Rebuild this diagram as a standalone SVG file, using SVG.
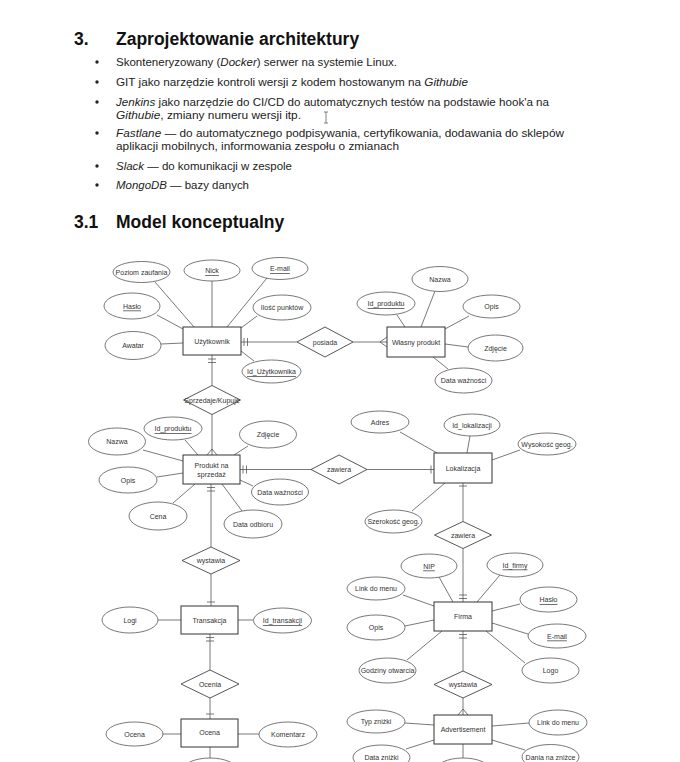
<svg xmlns="http://www.w3.org/2000/svg" width="680" height="762" viewBox="0 0 680 762">
<style>
.h{font-family:"Liberation Sans",Arial,sans-serif;font-size:17.5px;font-weight:bold;fill:#111}
.b{font-family:"Liberation Sans",Arial,sans-serif;font-size:11.5px;fill:#222}
.i{font-style:italic}
.e{fill:#fff;stroke:#555;stroke-width:0.8}
.r{fill:#fff;stroke:#333;stroke-width:1}
.d{fill:#fff;stroke:#444;stroke-width:0.9}
.c{stroke:#555;stroke-width:0.8;fill:none}
.t{font-family:"Liberation Sans",Arial,sans-serif;font-size:7px;fill:#333;text-anchor:middle;dominant-baseline:central}
.u{text-decoration:underline}
</style>
<rect width="680" height="762" fill="#fff"/>
<g id="header">
<text class="h" x="74" y="45">3.</text>
<text class="h" x="116" y="45">Zaprojektowanie architektury</text>
<g fill="#222"><circle cx="97" cy="62" r="1.7"/><circle cx="97" cy="82" r="1.7"/><circle cx="97" cy="102" r="1.7"/><circle cx="97" cy="133" r="1.7"/><circle cx="97" cy="166" r="1.7"/><circle cx="97" cy="185" r="1.7"/></g>
<text class="b" x="116" y="66" textLength="281" lengthAdjust="spacingAndGlyphs">Skonteneryzowany (<tspan class="i">Docker</tspan>) serwer na systemie Linux.</text>
<text class="b" x="116" y="86" textLength="352" lengthAdjust="spacingAndGlyphs">GIT jako narzędzie kontroli wersji z kodem hostowanym na <tspan class="i">Githubie</tspan></text>
<text class="b" x="116" y="106" textLength="433" lengthAdjust="spacingAndGlyphs"><tspan class="i">Jenkins</tspan> jako narzędzie do CI/CD do automatycznych testów na podstawie hook'a na</text>
<text class="b" x="116" y="119" textLength="185" lengthAdjust="spacingAndGlyphs"><tspan class="i">Githubie</tspan>, zmiany numeru wersji itp.</text>
<text class="b" x="116" y="137" textLength="448" lengthAdjust="spacingAndGlyphs"><tspan class="i">Fastlane</tspan> — do automatycznego podpisywania, certyfikowania, dodawania do sklepów</text>
<text class="b" x="116" y="150" textLength="283" lengthAdjust="spacingAndGlyphs">aplikacji mobilnych, informowania zespołu o zmianach</text>
<text class="b" x="116" y="170" textLength="176" lengthAdjust="spacingAndGlyphs"><tspan class="i">Slack</tspan> — do komunikacji w zespole</text>
<text class="b" x="116" y="189" textLength="133" lengthAdjust="spacingAndGlyphs"><tspan class="i">MongoDB</tspan> — bazy danych</text>
<path d="M324,112 h4 M326,112 v11 M324,123 h4" stroke="#666" stroke-width="0.8" fill="none"/>
<text class="h" x="74" y="228">3.1</text>
<text class="h" x="116" y="228">Model konceptualny</text>
</g>
<g id="connectors" class="c">
<!-- Uzytkownik attrs -->
<line x1="155" y1="282" x2="194" y2="327"/>
<line x1="212" y1="281" x2="212" y2="327"/>
<line x1="267" y1="278" x2="227" y2="327"/>
<line x1="157" y1="315" x2="183" y2="329"/>
<line x1="257" y1="316" x2="241" y2="328"/>
<line x1="161" y1="344" x2="183" y2="343"/>
<line x1="241" y1="351" x2="254" y2="361"/>
<!-- Wlasny produkt attrs -->
<line x1="435" y1="291" x2="421" y2="327"/>
<line x1="397" y1="315" x2="405" y2="327"/>
<line x1="469" y1="316" x2="445" y2="329"/>
<line x1="445" y1="344" x2="468" y2="347"/>
<line x1="433" y1="357" x2="448" y2="369"/>
<!-- Produkt attrs -->
<line x1="185" y1="440" x2="198" y2="455"/>
<line x1="143" y1="450" x2="183" y2="461"/>
<line x1="248" y1="446" x2="234" y2="455"/>
<line x1="157" y1="477" x2="183" y2="473"/>
<line x1="240" y1="480" x2="253" y2="486"/>
<line x1="173" y1="503" x2="195" y2="484"/>
<line x1="222" y1="484" x2="242" y2="511"/>
<!-- Lokalizacja attrs -->
<line x1="400" y1="432" x2="437" y2="453"/>
<line x1="470" y1="436" x2="467" y2="453"/>
<line x1="492" y1="460" x2="520" y2="450"/>
<line x1="412" y1="511" x2="445" y2="483"/>
<!-- Firma attrs -->
<line x1="439" y1="577" x2="453" y2="602"/>
<line x1="500" y1="575" x2="477" y2="602"/>
<line x1="403" y1="595" x2="434" y2="606"/>
<line x1="520" y1="604" x2="492" y2="611"/>
<line x1="405" y1="626" x2="434" y2="620"/>
<line x1="528" y1="634" x2="492" y2="623"/>
<line x1="407" y1="660" x2="442" y2="631"/>
<line x1="525" y1="663" x2="486" y2="631"/>
<!-- Advertisement attrs -->
<line x1="405" y1="723" x2="434" y2="725"/>
<line x1="529" y1="723" x2="492" y2="726"/>
<line x1="406" y1="749" x2="434" y2="740"/>
<line x1="525" y1="750" x2="492" y2="740"/>
<line x1="463" y1="744" x2="463" y2="762"/>
<!-- Transakcja / Ocena attrs -->
<line x1="158" y1="620" x2="181" y2="620"/>
<line x1="238" y1="620" x2="253" y2="620"/>
<line x1="163" y1="734" x2="181" y2="734"/>
<line x1="238" y1="734" x2="259" y2="734"/>
<line x1="210" y1="747" x2="210" y2="762"/>
<!-- relationships -->
<line x1="241" y1="342" x2="297" y2="342"/>
<path d="M244,338 v8 M247.5,338 v8"/>
<line x1="353" y1="342" x2="387" y2="342"/>
<path d="M380,342 L387,337 M380,342 L387,347"/>
<line x1="212" y1="355" x2="212" y2="385.5"/>
<path d="M208,359 h8 M208,362.5 h8"/>
<line x1="212" y1="414.5" x2="212" y2="455"/>
<path d="M212,449 L207,455 M212,449 L217,455"/>
<line x1="240" y1="469.5" x2="311" y2="469.5"/>
<path d="M243,465.5 v8 M246.5,465.5 v8"/>
<line x1="367" y1="469.5" x2="434" y2="469.5"/>
<path d="M431,465.5 v8"/>
<line x1="463" y1="483" x2="463" y2="521.5"/>
<path d="M459,486 h8"/>
<line x1="463" y1="548.5" x2="463" y2="602"/>
<path d="M459,595 h8 M459,598.5 h8"/>
<line x1="463" y1="631" x2="463" y2="671"/>
<path d="M459,634.5 h8 M459,638 h8"/>
<line x1="463" y1="698" x2="463" y2="715"/>
<path d="M463,709 L458,715 M463,709 L468,715"/>
<line x1="211" y1="484" x2="211" y2="547"/>
<path d="M207,487.5 h8 M207,491 h8"/>
<line x1="211" y1="574" x2="211" y2="606"/>
<path d="M207,602 h8"/>
<line x1="210" y1="634" x2="210" y2="670"/>
<path d="M206,637.5 h8 M206,641 h8"/>
<line x1="210" y1="698" x2="210" y2="719"/>
<path d="M206,714 h8"/>
</g>
<g id="uzytkownik"><rect class="r" x="183" y="327" width="58" height="28"/><text class="t" x="212" y="341">Użytkownik</text></g>
<g id="u_poziom"><ellipse class="e" cx="141.5" cy="272" rx="28.5" ry="10.5"/><text class="t" x="141.5" y="272">Poziom zaufania</text></g>
<g id="u_nick"><ellipse class="e" cx="212" cy="270.5" rx="28" ry="10.5"/><text class="t u" x="212" y="270.5">Nick</text></g>
<g id="u_email"><ellipse class="e" cx="280" cy="268.5" rx="28" ry="11"/><text class="t u" x="280" y="268.5">E-mail</text></g>
<g id="u_haslo"><ellipse class="e" cx="132" cy="306" rx="28" ry="13"/><text class="t u" x="132" y="306">Hasło</text></g>
<g id="u_ilosc"><ellipse class="e" cx="282" cy="307.5" rx="29" ry="12.5"/><text class="t" x="282" y="307.5">Ilość punktów</text></g>
<g id="u_awatar"><ellipse class="e" cx="133" cy="345.5" rx="28" ry="14"/><text class="t" x="133" y="345.5">Awatar</text></g>
<g id="u_id"><ellipse class="e" cx="271.5" cy="371.5" rx="29.5" ry="11.5"/><text class="t u" x="271.5" y="371.5">Id_Użytkownika</text></g>
<g id="posiada"><polygon class="d" points="297,342 325,327 353,342 325,357"/><text class="t" x="325" y="342">posiada</text></g>
<g id="wlasny"><rect class="r" x="387" y="327" width="58" height="30"/><text class="t" x="416" y="342">Własny produkt</text></g>
<g id="w_nazwa"><ellipse class="e" cx="440" cy="279" rx="28" ry="12.5"/><text class="t" x="440" y="279">Nazwa</text></g>
<g id="w_id"><ellipse class="e" cx="386" cy="303.5" rx="29" ry="11.5"/><text class="t u" x="386" y="303.5">Id_produktu</text></g>
<g id="w_opis"><ellipse class="e" cx="491.5" cy="306.5" rx="28.5" ry="11.5"/><text class="t" x="491.5" y="306.5">Opis</text></g>
<g id="w_zdjecie"><ellipse class="e" cx="495.5" cy="348" rx="27.5" ry="13"/><text class="t" x="495.5" y="348">Zdjęcie</text></g>
<g id="w_data"><ellipse class="e" cx="463.5" cy="380.5" rx="28.5" ry="12.5"/><text class="t" x="463.5" y="380.5">Data ważności</text></g>
<g id="sprzedaje"><polygon class="d" points="183.5,400 212,385.5 240.5,400 212,414.5"/><text class="t" x="212" y="400">Sprzedaje/Kupuje</text></g>
<g id="produkt"><rect class="r" x="183" y="455" width="57" height="29"/><text class="t" x="211.5" y="465">Produkt na</text><text class="t" x="211.5" y="474">sprzedaż</text></g>
<g id="p_id"><ellipse class="e" cx="173" cy="428.5" rx="29" ry="11.5"/><text class="t u" x="173" y="428.5">Id_produktu</text></g>
<g id="p_nazwa"><ellipse class="e" cx="117" cy="441.5" rx="28.5" ry="13.5"/><text class="t" x="117" y="441.5">Nazwa</text></g>
<g id="p_zdjecie"><ellipse class="e" cx="268" cy="434.5" rx="28.5" ry="13.5"/><text class="t" x="268" y="434.5">Zdjęcie</text></g>
<g id="p_opis"><ellipse class="e" cx="128" cy="480" rx="29" ry="13"/><text class="t" x="128" y="480">Opis</text></g>
<g id="p_data"><ellipse class="e" cx="280" cy="492" rx="28.5" ry="13"/><text class="t" x="280" y="492">Data ważności</text></g>
<g id="p_cena"><ellipse class="e" cx="158" cy="516" rx="29" ry="14"/><text class="t" x="158" y="516">Cena</text></g>
<g id="p_odbior"><ellipse class="e" cx="253" cy="524" rx="29" ry="14"/><text class="t" x="253" y="524">Data odbioru</text></g>
<g id="zawiera1"><polygon class="d" points="311,469.5 339,455 367,469.5 339,484"/><text class="t" x="339" y="469.5">zawiera</text></g>
<g id="lokalizacja"><rect class="r" x="434" y="453" width="58" height="30"/><text class="t" x="463" y="468">Lokalizacja</text></g>
<g id="l_adres"><ellipse class="e" cx="380" cy="422" rx="29" ry="11"/><text class="t" x="380" y="422">Adres</text></g>
<g id="l_id"><ellipse class="e" cx="472" cy="425" rx="28" ry="11"/><text class="t" x="472" y="425">Id_lokalizacji</text></g>
<g id="l_wys"><ellipse class="e" cx="547" cy="444" rx="29" ry="11"/><text class="t" x="547" y="444">Wysokość geog.</text></g>
<g id="l_szer"><ellipse class="e" cx="393.5" cy="521.5" rx="28.5" ry="11.5"/><text class="t" x="393.5" y="521.5">Szerokość geog.</text></g>
<g id="zawiera2"><polygon class="d" points="434.5,535 463,521.5 491.5,535 463,548.5"/><text class="t" x="463" y="535">zawiera</text></g>
<g id="firma"><rect class="r" x="434" y="602" width="58" height="29"/><text class="t" x="463" y="616.5">Firma</text></g>
<g id="f_nip"><ellipse class="e" cx="429" cy="566" rx="28" ry="12"/><text class="t u" x="429" y="566">NIP</text></g>
<g id="f_id"><ellipse class="e" cx="515" cy="565" rx="28" ry="12"/><text class="t u" x="515" y="565">Id_firmy</text></g>
<g id="f_link"><ellipse class="e" cx="376" cy="588.5" rx="29" ry="11.5"/><text class="t" x="376" y="588.5">Link do menu</text></g>
<g id="f_haslo"><ellipse class="e" cx="548.5" cy="599.5" rx="28.5" ry="12.5"/><text class="t u" x="548.5" y="599.5">Hasło</text></g>
<g id="f_opis"><ellipse class="e" cx="376" cy="627.5" rx="29" ry="12.5"/><text class="t" x="376" y="627.5">Opis</text></g>
<g id="f_email"><ellipse class="e" cx="557" cy="636" rx="29" ry="12"/><text class="t u" x="557" y="636">E-mail</text></g>
<g id="f_godziny"><ellipse class="e" cx="387.5" cy="670.5" rx="28.5" ry="12.5"/><text class="t" x="387.5" y="670.5">Godziny otwarcia</text></g>
<g id="f_logo"><ellipse class="e" cx="550.5" cy="670.5" rx="28.5" ry="12.5"/><text class="t" x="550.5" y="670.5">Logo</text></g>
<g id="wystawia2"><polygon class="d" points="434,684.5 463,671 492,684.5 463,698"/><text class="t" x="463" y="684.5">wystawia</text></g>
<g id="advertisement"><rect class="r" x="434" y="715" width="58" height="29"/><text class="t" x="463" y="729.5">Advertisement</text></g>
<g id="a_typ"><ellipse class="e" cx="376" cy="721.5" rx="29" ry="11.5"/><text class="t" x="376" y="721.5">Typ zniżki</text></g>
<g id="a_link"><ellipse class="e" cx="558" cy="722.5" rx="29" ry="12.5"/><text class="t" x="558" y="722.5">Link do menu</text></g>
<g id="a_data"><ellipse class="e" cx="381.5" cy="757.5" rx="28.5" ry="12.5"/><text class="t" x="381.5" y="757.5">Data zniżki</text></g>
<g id="a_dania"><ellipse class="e" cx="550.5" cy="757" rx="28.5" ry="12.5"/><text class="t" x="550.5" y="757">Dania na zniżce</text></g>
<g id="a_bottom"><ellipse class="e" cx="463" cy="771" rx="28" ry="13"/></g>
<g id="wystawia1"><polygon class="d" points="182,560.5 211,547 240,560.5 211,574"/><text class="t" x="211" y="560.5">wystawia</text></g>
<g id="transakcja"><rect class="r" x="181" y="606" width="57" height="28"/><text class="t" x="209.5" y="620">Transakcja</text></g>
<g id="t_logi"><ellipse class="e" cx="130" cy="620" rx="28" ry="13"/><text class="t" x="130" y="620">Logi</text></g>
<g id="t_id"><ellipse class="e" cx="282.5" cy="620.5" rx="29" ry="12.5"/><text class="t u" x="282.5" y="620.5">Id_transakcji</text></g>
<g id="ocenia"><polygon class="d" points="181,684 210,670 239,684 210,698"/><text class="t" x="210" y="684">Ocenia</text></g>
<g id="ocena"><rect class="r" x="181" y="719" width="57" height="28"/><text class="t" x="209.5" y="732.5">Ocena</text></g>
<g id="o_ocena"><ellipse class="e" cx="134.5" cy="734" rx="28.5" ry="12"/><text class="t" x="134.5" y="734">Ocena</text></g>
<g id="o_komentarz"><ellipse class="e" cx="288" cy="734.5" rx="29" ry="12.5"/><text class="t" x="288" y="734.5">Komentarz</text></g>
<g id="o_bottom"><ellipse class="e" cx="210" cy="771" rx="28" ry="13"/></g>
</svg>
